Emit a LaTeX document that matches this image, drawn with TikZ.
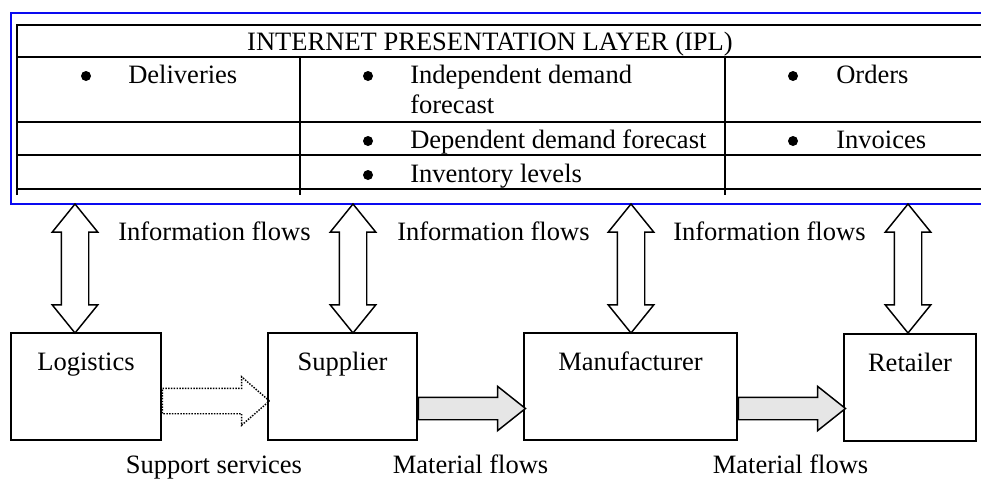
\documentclass[tikz,border=0pt]{standalone}
\usepackage{fontspec}
\setmainfont{Liberation Serif}
\usetikzlibrary{shapes.arrows,calc}

\begin{document}
\begin{tikzpicture}[x=0.75pt,y=0.75pt,yscale=-1,xscale=1,
  txt/.style={inner sep=0pt,font=\fontsize{19.9}{21.8}\selectfont},
  grid/.style={line width=1.1pt},
  dot/.style={circle,fill,inner sep=0pt,minimum size=7.5pt},
  box/.style={draw,line width=1.1pt,inner sep=0pt,text height=27.75pt,text depth=52.5pt,font=\fontsize{19.9}{21.8}\selectfont},
  infoarrow/.style={draw,line width=1.1pt,double arrow,shape border rotate=90,inner sep=9.75pt,
    minimum height=96.75pt,double arrow head extend=6.75pt,double arrow tip angle=78},
  matarrow/.style={draw,line width=1.1pt,fill={rgb,255:red,230;green,230;blue,230},single arrow,inner sep=7.875pt,
    minimum height=80.25pt,single arrow head extend=8.25pt,single arrow tip angle=77},
  suparrow/.style={draw,line width=1.1pt,densely dotted,single arrow,inner sep=9pt,
    minimum height=80.25pt,single arrow head extend=8.6pt,single arrow tip angle=82}
]
\useasboundingbox (0,0) rectangle (981,479);
\clip (0,0) rectangle (981,479);

%IPL frame and table
\draw [color={rgb,255:red,10;green,10;blue,240},line width=1.3pt] (11,13) rectangle (995,204);
\draw [grid] (17,195) -- (17,25) -- (995,25);
\foreach \y in {57,122,155,189} \draw [grid] (17,\y) -- (995,\y);
\foreach \x in {300,725} \draw [grid] (\x,57) -- (\x,195);

\node [txt,anchor=base] (title) at (490,50) {INTERNET PRESENTATION LAYER (IPL)};

\node [dot] (b1) at (86,76) {};
\node [txt,anchor=base west] (deliv) at (128,83) {Deliveries};
\node [dot] (b2) at (368,76) {};
\node [txt,anchor=base west] (indep) at (410,83) {Independent demand};
\node [txt,anchor=base west] (indep2) at (410,113) {forecast};
\node [dot] (b3) at (368,141) {};
\node [txt,anchor=base west] (dep) at (410,148) {Dependent demand forecast};
\node [dot] (b4) at (368,175) {};
\node [txt,anchor=base west] (inv) at (410,182) {Inventory levels};
\node [dot] (b5) at (793,76) {};
\node [txt,anchor=base west] (orders) at (836,83) {Orders};
\node [dot] (b6) at (793,141) {};
\node [txt,anchor=base west] (invoices) at (836,148) {Invoices};

%Information flows
\node [infoarrow] (ia1) at (75,268.5) {};
\node [infoarrow] (ia2) at (353,268.5) {};
\node [infoarrow] (ia3) at (631,268.5) {};
\node [infoarrow] (ia4) at (908,268.5) {};
\node [txt,anchor=base west] (if1) at (118,240) {Information flows};
\node [txt,anchor=base west] (if2) at (397,240) {Information flows};
\node [txt,anchor=base west] (if3) at (673,240) {Information flows};

%Boxes
\node [box,minimum width=112.5pt] (log) at (86,386.5) {Logistics};
\node [box,minimum width=111.75pt] (sup) at (342.5,386.5) {Supplier};
\node [box,minimum width=159.75pt] (man) at (630.5,386.5) {Manufacturer};
\node [box,minimum width=99pt] (ret) at (910,387.5) {Retailer};

%Flows between boxes
\node [suparrow,anchor=tail] (sa) at ($(log.east)+(0,14.5)$) {};
\node [matarrow,anchor=tail] (ma1) at ($(sup.east)+(0,22)$) {};
\node [matarrow,anchor=tail] (ma2) at ($(man.east)+(0,22)$) {};

\node [txt,anchor=base] (ss) at (214,473) {Support services};
\node [txt,anchor=base] (mf1) at (470.5,473) {Material flows};
\node [txt,anchor=base] (mf2) at (790.5,473) {Material flows};

\end{tikzpicture}
\end{document}
